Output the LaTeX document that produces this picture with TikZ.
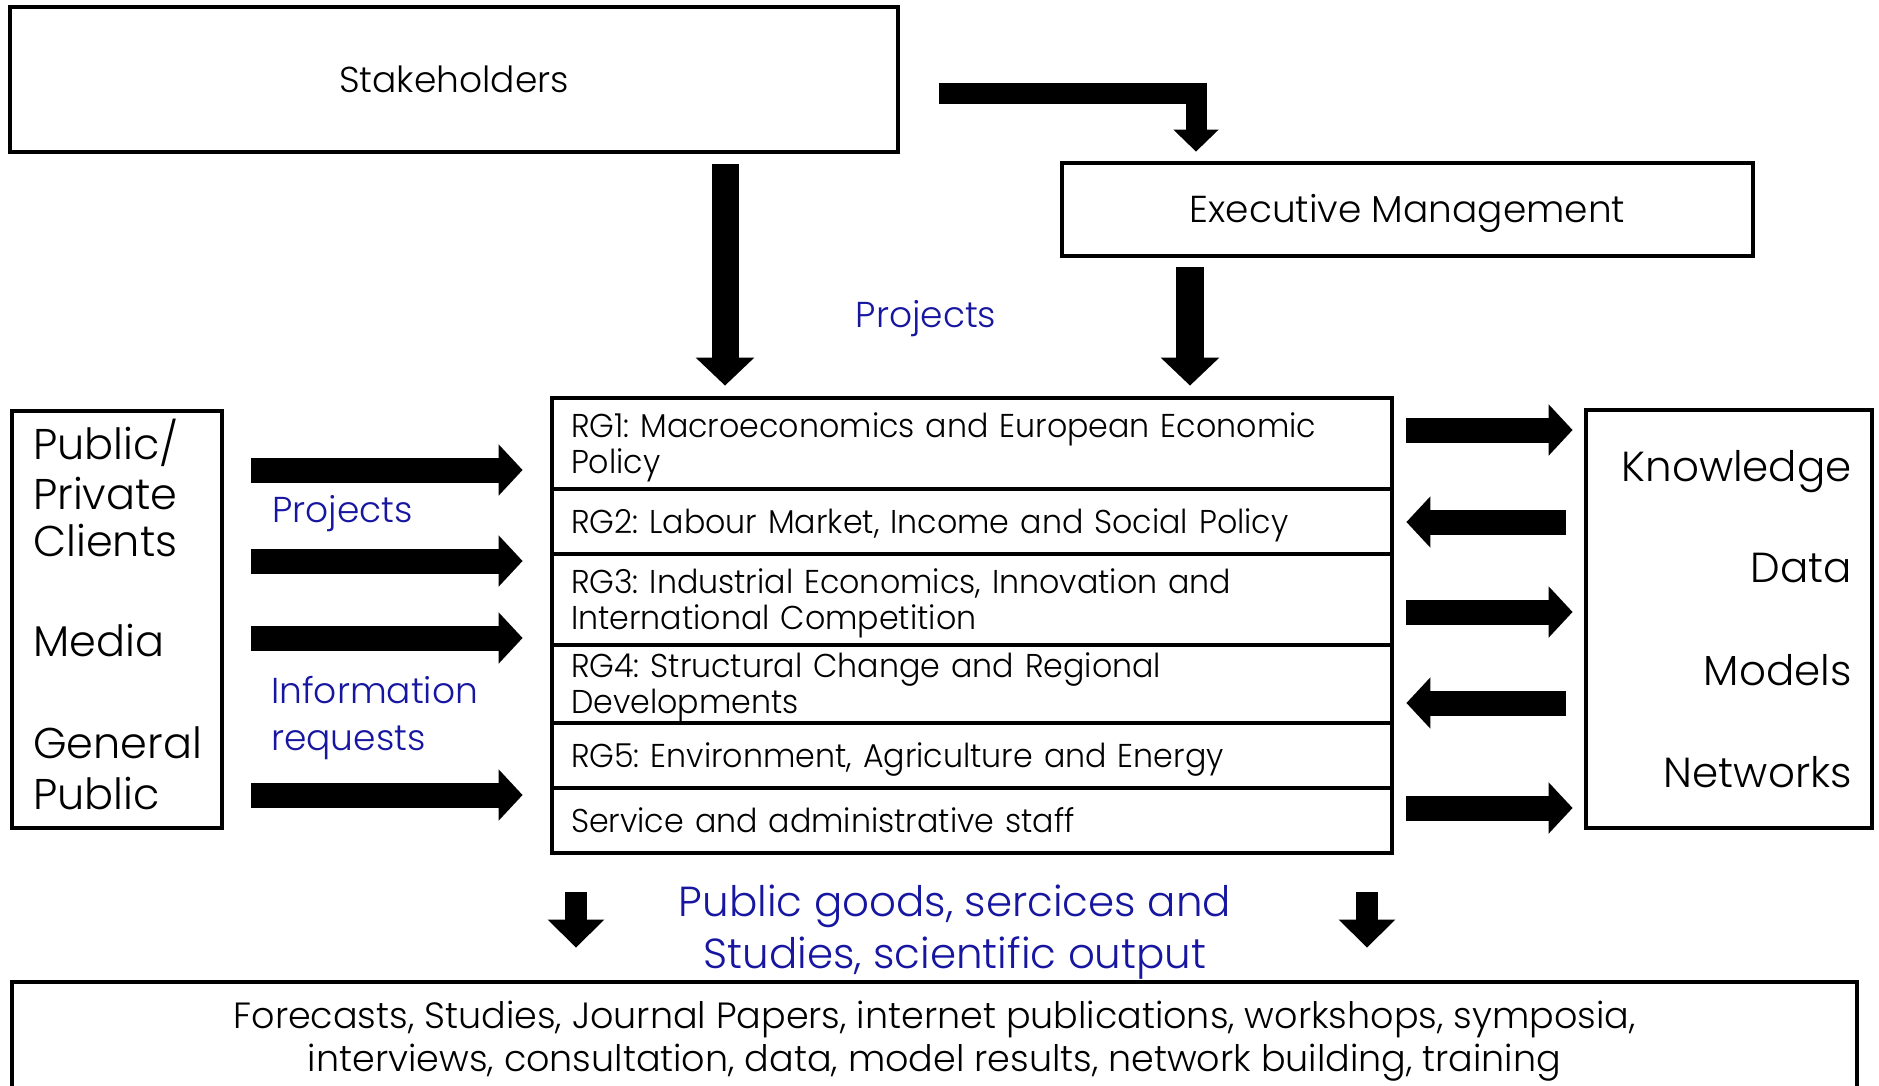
\documentclass[tikz,border=0pt]{standalone}
\usepackage{fontspec}
\setmainfont{Poppins}[UprightFont=* Light]
\newfontfamily\rgfont{Poppins}[UprightFont=* Light, FakeStretch=0.96]
\usetikzlibrary{arrows.meta,calc}
\definecolor{labelblue}{RGB}{22,22,160}
\frenchspacing
\begin{document}
\begin{tikzpicture}[x=1pt,y=-1pt,
  box/.style={draw, line width=4.8pt, rectangle, inner sep=0pt},
  rgrow/.style={box, minimum width=840pt, text width=802pt, inner xsep=19pt,
    align=left, text height=23pt, text depth=0pt,
    font=\rgfont\fontsize{33}{36}\selectfont},
  tworows/.style={text depth=36pt},
  sidetext/.style={inner sep=0pt, font=\fontsize{43}{46}\selectfont},
  restext/.style={inner sep=0pt, font=\fontsize{42}{44}\selectfont},
  bluetext/.style={inner sep=0pt, text=labelblue, font=\fontsize{36}{40}\selectfont},
  outtext/.style={inner sep=0pt, text=labelblue, font=\fontsize{42}{46}\selectfont},
  bottomtext/.style={inner sep=0pt, font=\fontsize{36.5}{40}\selectfont},
  harrow/.style={line width=25pt, -{Triangle[width=50pt,length=24pt]}},
  varrow/.style={line width=27pt, -{Triangle[width=57pt,length=28pt]}},
  bentarrow/.style={line width=21pt, -{Triangle[width=44pt,length=22pt]}},
  downarrow/.style={line width=22pt, -{Triangle[width=55pt,length=28pt]}}
]
\useasboundingbox (0,0) rectangle (1879,1085);
\clip (0,0) rectangle (1879,1085);

% boxes
\node[box, minimum width=888pt, minimum height=145pt, text height=25pt, text depth=0pt,
  font=\fontsize{36}{40}\selectfont] (stake) at (454,79.5) {Stakeholders};
\node[box, minimum width=691pt, minimum height=93pt, text height=26pt, text depth=0pt,
  font=\fontsize{37.5}{40}\selectfont] (em) at (1407.5,209.5) {Executive Management};
\node[box, minimum width=210pt, minimum height=417pt] (clients) at (117,619.5) {};
\node[box, minimum width=286pt, minimum height=418pt] (res) at (1729,619) {};
\node[box, minimum width=1845pt, minimum height=218pt] (outputs) at (934.5,1091) {};

% research groups
\node[rgrow, tworows, minimum height=91pt] (rg1) at (972,443.5)
  {RG1: Macroeconomics and European Economic\\Policy};
\node[rgrow, minimum height=65pt] (rg2) at (972,521.5)
  {RG2: Labour Market, Income and Social Policy};
\node[rgrow, tworows, minimum height=91pt] (rg3) at (972,599.5)
  {RG3: Industrial Economics, Innovation and\\International Competition};
\node[rgrow, tworows, minimum height=78pt] (rg4) at (972,684)
  {RG4: Structural Change and Regional\\Developments};
\node[rgrow, minimum height=65pt] (rg5) at (972,755.5)
  {RG5: Environment, Agriculture and Energy};
\node[rgrow, minimum height=65pt] (rg6) at (972,820.5)
  {Service and administrative staff};

% texts in the side boxes
\node[sidetext, anchor=base west] (c1) at (33,459) {Public/};
\node[sidetext, anchor=base west] (c2) at (33,509) {Private};
\node[sidetext, anchor=base west] (c3) at (33,556) {Clients};
\node[sidetext, anchor=base west] (c4) at (33,656) {Media};
\node[sidetext, anchor=base west] (c5) at (33,758) {General};
\node[sidetext, anchor=base west] (c6) at (33,809) {Public};

\node[restext, anchor=base east] (r1) at (1852,481) {Knowledge};
\node[restext, anchor=base east] (r2) at (1852,582) {Data};
\node[restext, anchor=base east] (r3) at (1852,685) {Models};
\node[restext, anchor=base east] (r4) at (1852,787) {Networks};

% blue labels
\node[bluetext, anchor=base] (projtop) at (926,327) {Projects};
\node[bluetext, anchor=base west] (projleft) at (272,522) {Projects};
\node[bluetext, anchor=base west] (info1) at (271,703) {Information};
\node[bluetext, anchor=base west] (info2) at (271,750) {requests};
\node[outtext, anchor=base] (out1) at (955,916) {Public goods, sercices and};
\node[outtext, anchor=base] (out2) at (955,968) {Studies, scientific output};

% output list
\node[bottomtext, anchor=base] (list1) at (934.5,1028)
  {Forecasts, Studies, Journal Papers, internet publications, workshops, symposia,};
\node[bottomtext, anchor=base] (list2) at (934.5,1071)
  {interviews, consultation, data, model results, network building, training};

% arrows from the top
\draw[varrow, shorten <=10pt, shorten >=10pt] (stake.south -| 725,0) -- (rg1.north -| 725,0);
\draw[varrow, line width=28pt, shorten <=9pt, shorten >=10pt] (em.south -| 1190,0) -- (rg1.north -| 1190,0);
\draw[bentarrow, shorten <=39pt, shorten >=9pt] (stake.east |- 0,93.5) -| (em.north -| 1196,0);

% arrows from the clients
\foreach \y in {470,561,638,795}
  \draw[harrow, shorten <=27pt, shorten >=27pt] (clients.east |- 0,\y) -- (rg1.west |- 0,\y);

% exchange with the resources
\foreach \y in {430,612,808}
  \draw[harrow, shorten <=12pt, shorten >=11pt] (rg1.east |- 0,\y) -- (res.west |- 0,\y);
\foreach \y in {522,703}
  \draw[harrow, shorten <=18pt, shorten >=12pt] (res.west |- 0,\y) -- (rg1.east |- 0,\y);

% arrows to the outputs
\draw[downarrow, shorten <=37pt, shorten >=32pt] (rg6.south -| 576,0) -- (outputs.north -| 576,0);
\draw[downarrow, shorten <=37pt, shorten >=32pt] (rg6.south -| 1367,0) -- (outputs.north -| 1367,0);
\end{tikzpicture}
\end{document}
